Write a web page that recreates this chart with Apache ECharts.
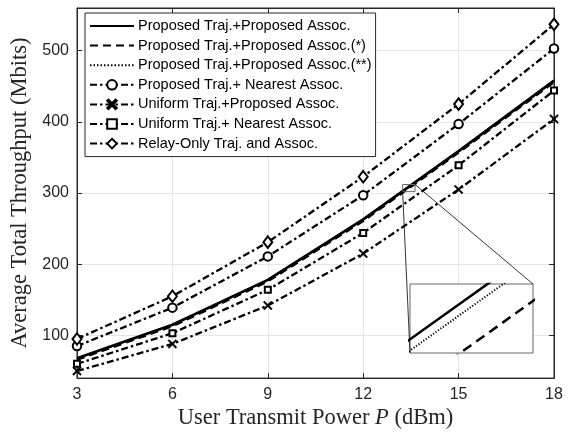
<!DOCTYPE html>
<html><head><meta charset="utf-8">
<script src="https://cdn.jsdelivr.net/npm/echarts@6/dist/echarts.min.js"></script>
<style>html,body{margin:0;padding:0;background:#fff}#c{width:575px;height:435px}</style>
</head><body><div id="c"></div>
<script>
// ---- data ----
const powers = [3, 6, 9, 12, 15, 18];
const xTicks = [3, 6, 9, 12, 15, 18];
const yTicks = [100, 200, 300, 400, 500];
const propProp      = [68, 115, 178, 263, 359, 458];
const propPropStar  = [65.8, 112.8, 175.8, 260.8, 356.8, 455.8];
const propPropStar2 = [67.5, 114.5, 177.5, 262.5, 358.5, 457.5];
const propNearest   = [85, 139, 211, 297, 397, 503];
const unifProp      = [50, 88, 142, 215, 305, 404];
const unifNearest   = [60, 103, 164, 244, 339, 444];
const relayOnly     = [95, 155, 231, 323, 425, 537];
const names = [
  'Proposed Traj.+Proposed Assoc.',
  'Proposed Traj.+Proposed Assoc.(*)',
  'Proposed Traj.+Proposed Assoc.(**)',
  'Proposed Traj.+ Nearest Assoc.',
  'Uniform Traj.+Proposed Assoc.',
  'Uniform Traj.+ Nearest Assoc.',
  'Relay-Only Traj. and Assoc.'
];
const zoomBox = { x: [13.24, 13.63], y: [302, 312] };
const insetRange = { x: [13.4, 13.522], y: [307.19, 310.26] };

const pts = arr => arr.map((v, i) => [powers[i], v]);
const crossPath = 'path://M1.3,0 L5,3.7 L8.7,0 L10,1.3 L6.3,5 L10,8.7 L8.7,10 L5,6.3 L1.3,10 L0,8.7 L3.7,5 L0,1.3 Z';
const dashDot = [7, 3, 2.5, 3];
const AX = '#262626';

const chart = echarts.init(document.getElementById('c'), null, { renderer: 'canvas' });

function mk(name, data, opt) {
  return Object.assign({
    name, type: 'line', data: pts(data), xAxisIndex: 0, yAxisIndex: 0,
    symbol: 'none', animation: false,
    lineStyle: { color: '#000', width: 2.3, type: dashDot },
    itemStyle: { color: '#000', borderColor: '#000', borderWidth: 2.3 }
  }, opt);
}

const series = [
  mk(names[1], propPropStar, { lineStyle: { color: '#000', width: 2.3, type: [8, 5] }, z: 2 }),
  mk(names[2], propPropStar2, { lineStyle: { color: '#000', width: 2, type: [1.5, 2] }, z: 2 }),
  mk(names[0], propProp, { lineStyle: { color: '#000', width: 2.7, type: 'solid' }, z: 4 }),
  mk(names[3], propNearest, { symbol: 'emptyCircle', symbolSize: 8.5 }),
  mk(names[4], unifProp, { symbol: crossPath, symbolSize: 9, itemStyle: { color: '#000', borderColor: '#000', borderWidth: 0.4 } }),
  mk(names[5], unifNearest, { symbol: 'emptyRect', symbolSize: 6, itemStyle: { color: '#000', borderColor: '#000', borderWidth: 2.6 } }),
  mk(names[6], relayOnly, { symbol: 'emptyDiamond', symbolSize: [9, 11.5], itemStyle: { color: '#000', borderColor: '#000', borderWidth: 2.5 } }),
  // inset
  mk('inset0', propProp, { xAxisIndex: 2, yAxisIndex: 2, lineStyle: { color: '#000', width: 2.5, type: 'solid' }, z: 5, clip: true }),
  mk('inset1', propPropStar, { xAxisIndex: 2, yAxisIndex: 2, lineStyle: { color: '#000', width: 2.5, type: [10, 6] }, z: 5, clip: true }),
  mk('inset2', propPropStar2, { xAxisIndex: 2, yAxisIndex: 2, lineStyle: { color: '#000', width: 2, type: [1.2, 1.8] }, z: 5, clip: true })
];

const legendData = names.map((nm, i) => i < 3 ? { name: nm, itemStyle: { opacity: 0 } } : { name: nm });

const option = {
  backgroundColor: '#fff',
  animation: false,
  grid: [
    { left: 77, top: 8, width: 477, height: 373, show: true, borderColor: AX, borderWidth: 1, containLabel: false },
    { left: 410, top: 284, width: 123, height: 69, show: true, borderColor: '#666', borderWidth: 1, backgroundColor: '#fff', z: 1 }
  ],
  legend: {
    data: legendData, orient: 'vertical', left: 85, top: 13,
    itemWidth: 44, itemHeight: 12, itemGap: 4.6,
    padding: [5.5, 4, 5.5, 4],
    backgroundColor: '#fff', borderColor: AX, borderWidth: 1,
    textStyle: { fontFamily: 'Liberation Sans', fontSize: 14.5, color: '#000', padding: [0, 0, 0, -1] },
    z: 10
  },
  xAxis: [
    { type: 'value', gridIndex: 0, min: 3, max: 18, interval: 3, position: 'bottom',
      axisLine: { show: true, lineStyle: { color: AX } },
      axisTick: { show: true, inside: true, length: 5, lineStyle: { color: AX } },
      axisLabel: { color: AX, fontFamily: 'Liberation Sans', fontSize: 16, margin: 8 },
      splitLine: { show: true, lineStyle: { color: '#e6e6e6', width: 1 } },
      name: '{a|User Transmit Power }{i|P}{a| (dBm)}', nameLocation: 'middle', nameGap: 26,
      nameTextStyle: { rich: {
        a: { fontFamily: 'Liberation Serif', fontSize: 22.5, color: AX },
        i: { fontFamily: 'Liberation Serif', fontSize: 22.5, fontStyle: 'italic', color: AX } } } },
    { type: 'value', gridIndex: 0, min: 3, max: 18, interval: 3, position: 'top',
      axisLine: { show: true, lineStyle: { color: AX } },
      axisTick: { show: true, inside: true, length: 5, lineStyle: { color: AX } },
      axisLabel: { show: false }, splitLine: { show: false } },
    { type: 'value', gridIndex: 1, min: insetRange.x[0], max: insetRange.x[1],
      axisLine: { show: false }, axisTick: { show: false }, axisLabel: { show: false }, splitLine: { show: false } }
  ],
  yAxis: [
    { type: 'value', gridIndex: 0, min: 40, max: 560, position: 'left',
      axisLine: { show: true, lineStyle: { color: AX } },
      axisTick: { show: true, inside: true, length: 5, lineStyle: { color: AX }, customValues: yTicks },
      axisLabel: { color: AX, fontFamily: 'Liberation Sans', fontSize: 16, margin: 8, customValues: yTicks },
      splitLine: { show: true, lineStyle: { color: '#e6e6e6', width: 1 } },
      name: 'Average Total Throughput (Mbits)', nameLocation: 'middle', nameGap: 34,
      nameTextStyle: { fontFamily: 'Liberation Serif', fontSize: 22.5, color: AX } },
    { type: 'value', gridIndex: 0, min: 40, max: 560, position: 'right',
      axisLine: { show: true, lineStyle: { color: AX } },
      axisTick: { show: true, inside: true, length: 5, lineStyle: { color: AX }, customValues: yTicks },
      axisLabel: { show: false, customValues: yTicks }, splitLine: { show: false } },
    { type: 'value', gridIndex: 1, min: insetRange.y[0], max: insetRange.y[1],
      axisLine: { show: false }, axisTick: { show: false }, axisLabel: { show: false }, splitLine: { show: false } }
  ],
  series
};
chart.setOption(option);

// zoom box and connectors (data coords through the library)
const m = (x, y) => chart.convertToPixel({ gridIndex: 0 }, [x, y]);
const n = (x, y) => chart.convertToPixel({ gridIndex: 1 }, [x, y]);
const bl = m(zoomBox.x[0], zoomBox.y[0]);
const tr = m(zoomBox.x[1], zoomBox.y[1]);
const ibl = n(insetRange.x[0], insetRange.y[0]);
const itr = n(insetRange.x[1], insetRange.y[1]);
chart.setOption({
  graphic: [
    { type: 'rect', z: 20, shape: { x: bl[0], y: tr[1], width: tr[0] - bl[0], height: bl[1] - tr[1] },
      style: { fill: 'none', stroke: '#666', lineWidth: 1 } },
    { type: 'line', z: 20, shape: { x1: bl[0], y1: bl[1], x2: ibl[0], y2: ibl[1] }, style: { stroke: '#000', lineWidth: 0.8 } },
    { type: 'line', z: 20, shape: { x1: tr[0], y1: tr[1], x2: itr[0], y2: itr[1] }, style: { stroke: '#000', lineWidth: 0.8 } }
  ]
});
</script></body></html>
